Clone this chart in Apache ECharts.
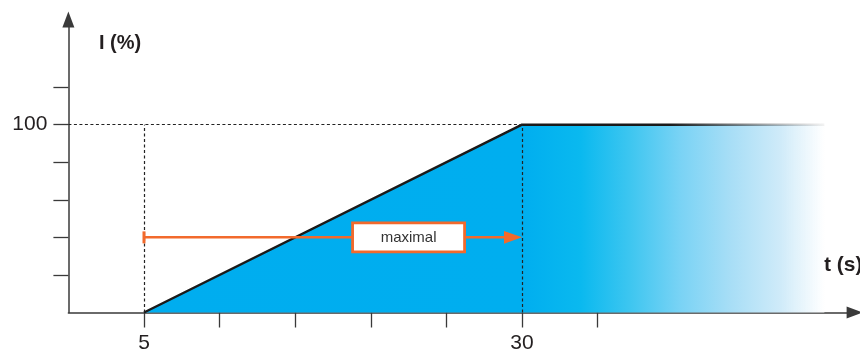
<!DOCTYPE html>
<html>
<head>
<meta charset="utf-8">
<script src="https://cdn.jsdelivr.net/npm/echarts@6/dist/echarts.min.js"></script>
<style>
    html, body { margin: 0; padding: 0; background: #fff; }
    #chart { width: 860px; height: 351px; }
</style>
</head>
<body>
<div id="chart"></div>
<script>
    // ramp profile: time (s) -> current (%)
    var times = [5, 30, 50]
    var levels = [0, 100, 100]
    // "maximal" arrow: start, end, level, label centre
    var arrowFrom = 5
    var arrowTo = 30
    var arrowLevel = 40
    var labelAt = 22.5
    var labelText = 'maximal'
    // axis ticks / labels
    var xTicks = [5, 10, 15, 20, 25, 30, 35]
    var xLabels = [5, 30]
    var yTicks = [20, 40, 60, 80, 100, 120]
    var yLabels = [100]

    var font = '"Liberation Sans", Arial, sans-serif'
    var orange = '#f26a2c'
    var axisColor = '#3a3a3a'

    var chart = echarts.init(document.getElementById('chart'))

    var fill = new echarts.graphic.LinearGradient(0, 0, 1, 0, [
        { offset: 0, color: '#00adef' },
        { offset: 0.556, color: '#00aeef' },
        { offset: 0.642, color: '#0ab9ef' },
        { offset: 0.715, color: '#3ec6f0' },
        { offset: 0.789, color: '#7ad3f5' },
        { offset: 0.863, color: '#a8def6' },
        { offset: 0.937, color: '#d0ebf9' },
        { offset: 1, color: 'rgba(255,255,255,0.9)' }
    ])
    var edge = new echarts.graphic.LinearGradient(0, 0, 1, 0, [
        { offset: 0, color: '#1a1a1a' },
        { offset: 0.77, color: '#1a1a1a' },
        { offset: 1, color: 'rgba(60,60,60,0.05)' }
    ])

    var option = {
        animation: false,
        grid: { left: 68.4, right: 5.4, top: 19.5, bottom: 38.5, outerBoundsMode: 'none' },
        xAxis: {
            type: 'value',
            min: 0,
            max: 52,
            axisLine: {
                lineStyle: { color: axisColor, width: 1.5 },
                symbol: ['none', 'triangle'],
                symbolSize: [12, 16]
            },
            axisTick: {
                customValues: xTicks,
                length: 15,
                lineStyle: { color: axisColor, width: 1.3 }
            },
            axisLabel: {
                customValues: xLabels,
                margin: 20,
                fontSize: 21,
                fontFamily: font,
                color: '#231f20'
            },
            splitLine: { show: false }
        },
        yAxis: {
            type: 'value',
            min: 0,
            max: 156,
            axisLine: {
                show: true,
                lineStyle: { color: axisColor, width: 1.5 },
                symbol: ['none', 'triangle'],
                symbolSize: [12, 16]
            },
            axisTick: {
                show: true,
                customValues: yTicks,
                length: 15,
                lineStyle: { color: axisColor, width: 1.3 }
            },
            axisLabel: {
                customValues: yLabels,
                margin: 21,
                fontSize: 21,
                fontFamily: font,
                color: '#231f20'
            },
            splitLine: { show: false }
        },
        graphic: [
            {
                type: 'text', left: 99, top: 33,
                style: { text: 'I (%)', font: 'bold 20px ' + font, fill: '#231f20' }
            },
            {
                type: 'text', left: 824, top: 255,
                style: { text: 't (s)', font: 'bold 21px ' + font, fill: '#231f20' }
            }
        ],
        series: [
            {
                type: 'line',
                z: 2,
                data: times.map(function (t, i) { return [t, levels[i]] }),
                symbol: 'none',
                lineStyle: { color: edge, width: 2.5 },
                areaStyle: { color: fill, opacity: 1 },
                markLine: {
                    silent: true,
                    symbol: 'none',
                    label: { show: false },
                    lineStyle: { color: '#222', width: 1.2, type: [3, 2.5] },
                    data: [
                        [{ coord: [arrowFrom, 0] }, { coord: [arrowFrom, levels[1]] }],
                        [{ coord: [arrowTo, 0] }, { coord: [arrowTo, levels[1]] }],
                        [{ coord: [0, levels[1]] }, { coord: [arrowTo, levels[1]] }]
                    ]
                }
            },
            {
                type: 'custom',
                z: 10,
                data: [[arrowFrom, arrowTo, arrowLevel, labelAt]],
                encode: { x: [0, 1, 3], y: 2 },
                clip: false,
                renderItem: function (params, api) {
                    var p0 = api.coord([api.value(0), api.value(2)])
                    var p1 = api.coord([api.value(1), api.value(2)])
                    var pl = api.coord([api.value(3), api.value(2)])
                    return {
                        type: 'group',
                        children: [
                            { type: 'line', shape: { x1: p0[0], y1: p0[1], x2: p1[0] - 10, y2: p1[1] },
                              style: { stroke: orange, lineWidth: 2.5 } },
                            { type: 'rect', shape: { x: p0[0] - 1.5, y: p0[1] - 6, width: 3, height: 12 },
                              style: { fill: orange } },
                            { type: 'polygon', shape: { points: [[p1[0], p1[1]], [p1[0] - 18, p1[1] - 6.3], [p1[0] - 18, p1[1] + 6.3]] },
                              style: { fill: orange } },
                            { type: 'rect', shape: { x: pl[0] - 56, y: pl[1] - 14.5, width: 112, height: 29 },
                              style: { fill: '#fff', stroke: orange, lineWidth: 2.8 } },
                            { type: 'text', x: pl[0], y: pl[1],
                              style: { text: labelText, font: '15px ' + font, fill: '#333', align: 'center', verticalAlign: 'middle' } }
                        ]
                    }
                }
            }
        ]
    }

    chart.setOption(option)
</script>
</body>
</html>
